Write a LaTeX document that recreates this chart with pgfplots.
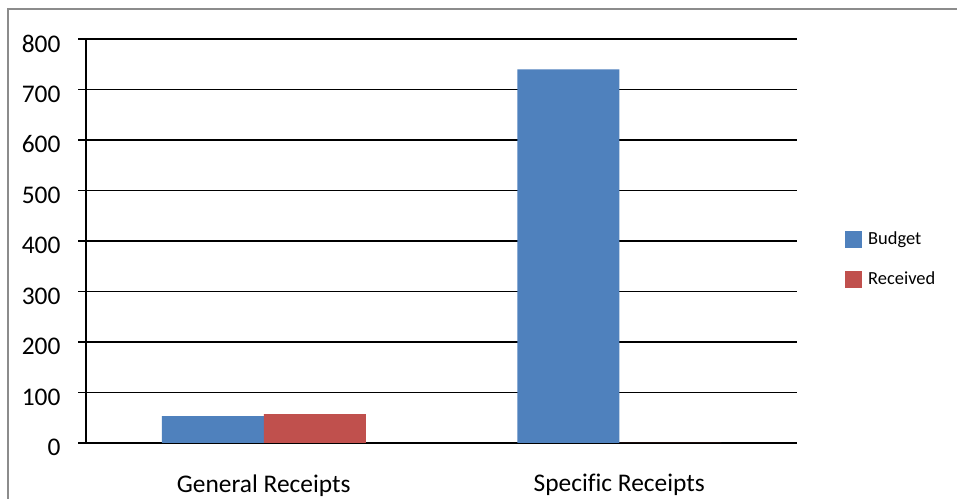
\documentclass[border=0pt]{standalone}
\usepackage{fontspec}
\setmainfont{Carlito}[Ligatures=CommonOff]
\usepackage{pgfplots}
\pgfplotsset{compat=1.18}
\definecolor{budget}{HTML}{4F81BD}
\definecolor{received}{HTML}{C0504D}
\begin{document}
\begin{tikzpicture}[x=1bp,y=1bp]
\useasboundingbox (0,0) rectangle (957,499);
\fill[white] (0,0) rectangle (957,499);
\draw[color=black!45, line width=1.5bp] (8,0) -- (8,490) -- (957,490);
\begin{axis}[
  at={(86bp,56bp)}, anchor=south west,
  scale only axis, width=711bp, height=404bp,
  xmin=-0.5, xmax=1.5, ymin=0, ymax=800,
  axis x line=bottom, axis y line=left,
  axis line style={-},
  x axis line style={line width=2bp},
  y axis line style={line width=1.3bp},
  ytick={0,100,...,800},
  ymajorgrids, grid style={black, line width=1.3bp},
  tick align=outside,
  major tick length=8bp,
  y tick style={black, line width=1.3bp},
  xtick={0,1},
  xticklabels={General Receipts, Specific Receipts},
  x tick style={draw=none},
  extra x ticks={-0.5,0.5,1.5},
  extra x tick labels={},
  extra x tick style={grid=none, major tick length=9bp, tick style={black, line width=1.3bp}},
  ticklabel style={font=\fontsize{25.5}{30}\selectfont},
  /pgf/number format/assume math mode=true,
  yticklabel style={xshift=-14bp, yshift=-4.5bp},
  xticklabel style={yshift=-20bp},
  legend style={at={(1.0675,0.453)}, anchor=west, draw=none, fill=none, inner sep=0pt,
    row sep=23bp, column sep=6bp,
    nodes={inner sep=0pt, font=\fontsize{18.5}{22}\selectfont, text height=13bp, text depth=4bp},
    cells={anchor=west}},
]
\addplot[ybar, bar width=102bp, bar shift=-51bp, fill=budget, draw=none,
  legend image code/.code={\fill[fill=budget] (0bp,-8.5bp) rectangle (17bp,8.5bp);}]
  coordinates {(0,53) (1,740)};
\addplot[ybar, bar width=102bp, bar shift=51bp, fill=received, draw=none,
  legend image code/.code={\fill[fill=received] (0bp,-8.5bp) rectangle (17bp,8.5bp);}]
  coordinates {(0,57) (1,0)};
\legend{Budget,Received}
\end{axis}
\end{tikzpicture}
\end{document}
